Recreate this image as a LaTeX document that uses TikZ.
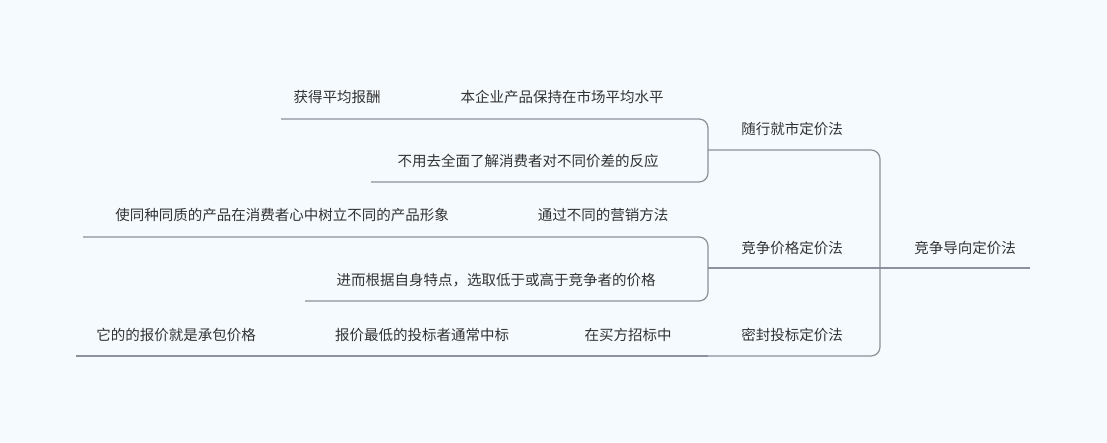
\documentclass[tikz,border=0pt]{standalone}
\usepackage{fontspec}
\newfontfamily\cjk{Noto Sans CJK SC}
\definecolor{bgcol}{HTML}{F5FAFE}
\definecolor{linecol}{HTML}{8C919B}
\definecolor{txtcol}{HTML}{333333}
\tikzset{
    topic/.style={font=\cjk\fontsize{14.5pt}{16pt}\selectfont, text=txtcol, inner sep=0pt, anchor=center},
    edge/.style={draw=linecol, line width=1.2pt, rounded corners=9pt}
}
\begin{document}
\begin{tikzpicture}[x=1pt,y=-1pt]
    \fill[bgcol] (0,0) rectangle (1107,442);
    \useasboundingbox (0,0) rectangle (1107,442);

    % root and branches
    \node[topic, name=root] at (965,248) {竞争导向定价法};
    \node[topic, name=B1] at (792,129) {随行就市定价法};
    \node[topic, name=B2] at (792,248) {竞争价格定价法};
    \node[topic, name=B3] at (792,335) {密封投标定价法};

    % leaves
    \node[topic, name=L1a] at (562,97) {本企业产品保持在市场平均水平};
    \node[topic, name=L1b] at (337,97) {获得平均报酬};
    \node[topic, name=L1c] at (528,161) {不用去全面了解消费者对不同价差的反应};
    \node[topic, name=L2a] at (603,215) {通过不同的营销方法};
    \node[topic, name=L2b] at (282,215) {使同种同质的产品在消费者心中树立不同的产品形象};
    \node[topic, name=L2c] at (496,280) {进而根据自身特点，选取低于或高于竞争者的价格};
    \node[topic, name=L3a] at (628,335) {在买方招标中};
    \node[topic, name=L3b] at (422,335) {报价最低的投标者通常中标};
    \node[topic, name=L3c] at (176,335) {它的的报价就是承包价格};

    \coordinate (J1) at (708,150);
    \coordinate (J2) at (708,268);
    \coordinate (J3) at (708,356);

    % trunk
    \draw[edge] (1030,268) -- (J2);
    \draw[edge] (J1) -- (880,150) -- (880,356) -- (J3);

    % first branch
    \draw[edge] (281,119) -- (708,119) -- (J1);
    \draw[edge] (371,182) -- (708,182) -- (J1);

    % second branch
    \draw[edge] (83,237) -- (708,237) -- (J2);
    \draw[edge] (305,301) -- (708,301) -- (J2);

    % third branch
    \draw[edge] (76,356) -- (J3);
\end{tikzpicture}
\end{document}
